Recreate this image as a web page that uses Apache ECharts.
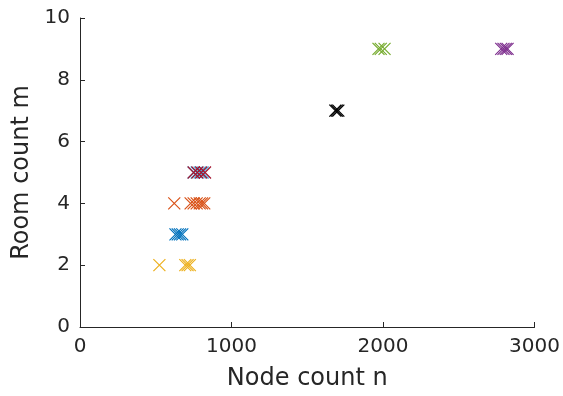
<!DOCTYPE html>
<html><head><meta charset="utf-8">
<script src="https://cdn.jsdelivr.net/npm/echarts@6/dist/echarts.min.js"></script>
<style>html,body{margin:0;padding:0;background:#fff;overflow:hidden}#c{position:absolute;left:0;top:0;width:563px;height:396px}</style>
</head><body><div id="c"></div>
<script>
const xTicks = [0, 1000, 2000, 3000];
const yTicks = [0, 2, 4, 6, 8, 10];
const groupNames = ['m2', 'm3', 'm4', 'm5a', 'm5b', 'm7', 'm9a', 'm9b'];
const groupColors = ['#EDB120', '#0072BD', '#D95319', '#4DBEEE', '#A2142F', '#000000', '#77AC30', '#7E2F8E'];
const nodesM2 = [524, 695, 710, 725];
const roomsM2 = [2, 2, 2, 2];
const nodesM3 = [630, 645, 660, 675];
const roomsM3 = [3, 3, 3, 3];
const nodesM4 = [622, 730, 750, 770, 790, 805, 820];
const roomsM4 = [4, 4, 4, 4, 4, 4, 4];
const nodesM5a = [750, 770, 790, 810];
const roomsM5a = [5, 5, 5, 5];
const nodesM5b = [750, 775, 800, 825];
const roomsM5b = [5, 5, 5, 5];
const nodesM7 = [1685, 1695, 1705];
const roomsM7 = [7, 7, 7];
const nodesM9a = [1970, 1985, 2010];
const roomsM9a = [9, 9, 9];
const nodesM9b = [2780, 2795, 2810, 2822];
const roomsM9b = [9, 9, 9, 9];

const groups = [
  [nodesM2, roomsM2], [nodesM3, roomsM3], [nodesM4, roomsM4], [nodesM5a, roomsM5a],
  [nodesM5b, roomsM5b], [nodesM7, roomsM7], [nodesM9a, roomsM9a], [nodesM9b, roomsM9b]
];
const cross = 'path://M0,0L10,10M10,0L0,10';
const series = groups.map((g, i) => ({
  name: groupNames[i],
  type: 'scatter',
  symbol: cross,
  symbolSize: 12,
  data: g[0].map((x, j) => [x, g[1][j]]),
  itemStyle: { color: groupColors[i], borderColor: groupColors[i], borderWidth: 1.2, opacity: 1 },
  emphasis: { disabled: true },
  animation: false
}));
const txt = '#262626';
const font = 'DejaVu Sans';
const chart = echarts.init(document.getElementById('c'), null, { renderer: 'canvas', width: 563, height: 396 });
chart.setOption({
  animation: false,
  backgroundColor: '#fff',
  grid: { left: 80, right: 25, top: 18, bottom: 67, containLabel: false },
  xAxis: {
    type: 'value', min: xTicks[0], max: xTicks[xTicks.length - 1], interval: 1000,
    name: 'Node count n', nameLocation: 'middle', nameGap: 40,
    nameTextStyle: { color: txt, fontSize: 24, fontFamily: font },
    axisLine: { show: true, onZero: false, lineStyle: { color: txt, width: 1 } },
    axisTick: { show: true, inside: true, length: 5, lineStyle: { color: txt } },
    axisLabel: { color: txt, fontSize: 20, fontFamily: font, margin: 10, formatter: v => String(v) },
    splitLine: { show: false }
  },
  yAxis: {
    type: 'value', min: yTicks[0], max: yTicks[yTicks.length - 1], interval: 2,
    name: 'Room count m', nameLocation: 'middle', nameGap: 39,
    nameTextStyle: { color: txt, fontSize: 24, fontFamily: font },
    axisLine: { show: true, onZero: false, lineStyle: { color: txt, width: 1 } },
    axisTick: { show: true, inside: true, length: 5, lineStyle: { color: txt } },
    axisLabel: { color: txt, fontSize: 20, fontFamily: font, margin: 10, formatter: v => String(v) },
    splitLine: { show: false }
  },
  series: series
});
</script></body></html>
